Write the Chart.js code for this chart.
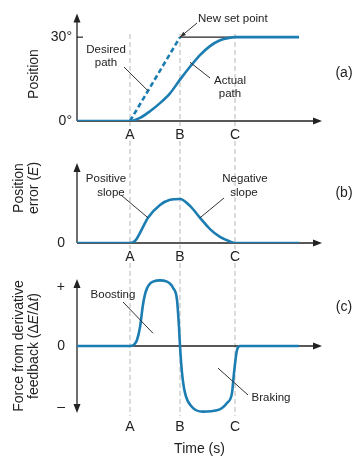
<!DOCTYPE html>
<html>
<head>
<meta charset="utf-8">
<script src="https://cdn.jsdelivr.net/npm/chart.js@4.4.1/dist/chart.umd.min.js"></script>
<style>
  body { margin: 0; background: #fff; }
  #wrap { position: relative; width: 356px; height: 458px; }
  #wrap canvas { position: absolute; left: 0; top: 0; }
</style>
</head>
<body>
<div id="wrap">
  <canvas id="chartA" width="356" height="458"></canvas>
  <canvas id="chartB" width="356" height="458"></canvas>
  <canvas id="chartC" width="356" height="458"></canvas>
</div>
<script>
// ==== Data ====
// time axis in arbitrary units, A / B / C are the three marked instants
const xTickValues = [5.3, 10.3, 15.8];
const xTickLabels = ["A", "B", "C"];

// (a) position in degrees
const actualTime = [0, 5.3, 6.3, 7.3, 8.3, 9.3, 10.3, 11.3, 12.3, 13.3, 14.3, 15.3, 15.8, 22.2];
const actualPos = [0, 0, 1.1, 3.5, 6.4, 9.9, 14.8, 19.4, 23.6, 26.8, 28.9, 29.8, 30, 30];
const desiredTime = [5.3, 10.3];
const desiredPos = [0, 30];
const setPointTime = [10.3, 15.8];
const setPointPos = [30, 30];
const posTicks = [0, 30];
const posTickLabels = ["0°", "30°"];

// (b) position error
const errorTime = [0, 5.3, 5.8, 6.3, 7.1, 8.3, 9.3, 10.3, 11.3, 12.3, 13.3, 14.3, 15.3, 15.8, 22.2];
const errorVal = [0, 0, 0.7, 3.5, 8.7, 13.1, 14.9, 15.2, 12.8, 8.7, 4.8, 2.1, 0.5, 0, 0];
const errorTicks = [0];
const errorTickLabels = ["0"];

// (c) force from derivative feedback
const forceTime = [0, 5.3, 5.7, 6.0, 6.3, 6.6, 6.8, 7.0, 7.3, 7.6, 8.3, 9.0, 9.3, 9.6, 10.0, 10.2, 10.3, 10.5, 10.8, 11.5, 12.6, 14.0, 15.0, 15.5, 15.7, 16.0, 16.3, 22.2];
const forceVal = [0, 0, 0.02, 0.09, 0.28, 0.62, 0.77, 0.86, 0.93, 0.96, 0.98, 0.96, 0.93, 0.87, 0.69, 0.28, 0, -0.40, -0.70, -0.91, -0.98, -0.96, -0.85, -0.70, -0.40, -0.06, 0, 0];
const forceTicks = [-0.92, 0, 0.88];
const forceTickLabels = ["–", "0", "+"];

// ==== Styles ====
const TEAL = "#1b7db1";
const INK = "#222";
const GUIDE = "#c4c4c4";
const FONT = "'Liberation Sans', Arial, sans-serif";

Chart.defaults.font.family = FONT;
Chart.defaults.color = INK;
Chart.defaults.elements.point.radius = 0;

const pts = (xs, ys) => xs.map((x, i) => ({ x: x, y: ys[i] }));

// ==== Drawing helpers ====
function arrowHead(ctx, x, y, dir) {
  ctx.beginPath();
  if (dir === "up") { ctx.moveTo(x, y); ctx.lineTo(x - 3.5, y + 9); ctx.lineTo(x + 3.5, y + 9); }
  if (dir === "down") { ctx.moveTo(x, y); ctx.lineTo(x - 3.5, y - 9); ctx.lineTo(x + 3.5, y - 9); }
  if (dir === "right") { ctx.moveTo(x, y); ctx.lineTo(x - 9, y - 3.5); ctx.lineTo(x - 9, y + 3.5); }
  ctx.closePath();
  ctx.fill();
}

function drawAxes(chart, bothWays) {
  const { ctx, chartArea: a, scales } = chart;
  const y0 = scales.y.getPixelForValue(0);
  ctx.save();
  ctx.strokeStyle = INK;
  ctx.fillStyle = INK;
  ctx.lineWidth = 1.3;
  ctx.beginPath();
  ctx.moveTo(a.left, bothWays ? a.bottom - 6 : y0);
  ctx.lineTo(a.left, a.top + 6);
  ctx.moveTo(a.left, y0);
  ctx.lineTo(a.right - 6, y0);
  ctx.stroke();
  arrowHead(ctx, a.left, a.top, "up");
  arrowHead(ctx, a.right, y0, "right");
  if (bothWays) arrowHead(ctx, a.left, a.bottom, "down");
  ctx.restore();
}

function textLines(ctx, lines, x, y, align) {
  ctx.save();
  ctx.font = "11.5px " + FONT;
  ctx.fillStyle = INK;
  ctx.textAlign = align || "center";
  ctx.textBaseline = "middle";
  lines.forEach((t, i) => ctx.fillText(t, x, y + i * 13));
  ctx.restore();
}

// pointer from a pixel spot to a spot given in data units
function pointer(chart, x1, y1, tx, ty, head) {
  const ctx = chart.ctx;
  const x2 = chart.scales.x.getPixelForValue(tx);
  const y2 = chart.scales.y.getPixelForValue(ty);
  ctx.save();
  ctx.strokeStyle = "#333";
  ctx.fillStyle = "#333";
  ctx.lineWidth = 1;
  ctx.beginPath();
  ctx.moveTo(x1, y1);
  ctx.lineTo(x2, y2);
  ctx.stroke();
  if (head) {
    const ang = Math.atan2(y2 - y1, x2 - x1);
    ctx.translate(x2, y2);
    ctx.rotate(ang);
    ctx.beginPath();
    ctx.moveTo(0, 0);
    ctx.lineTo(-6, -2.2);
    ctx.lineTo(-6, 2.2);
    ctx.closePath();
    ctx.fill();
  }
  ctx.restore();
}

// vertical (rotated) text made of plain / italic parts
function vText(ctx, parts, x, y) {
  ctx.save();
  ctx.translate(x, y);
  ctx.rotate(-Math.PI / 2);
  ctx.fillStyle = INK;
  ctx.textBaseline = "middle";
  ctx.textAlign = "left";
  const fontOf = (it) => (it ? "italic " : "") + "14px " + FONT;
  let total = 0;
  parts.forEach(([t, it]) => { ctx.font = fontOf(it); total += ctx.measureText(t).width; });
  let pos = -total / 2;
  parts.forEach(([t, it]) => {
    ctx.font = fontOf(it);
    ctx.fillText(t, pos, 0);
    pos += ctx.measureText(t).width;
  });
  ctx.restore();
}

function panelTag(ctx, t, x, y) {
  ctx.save();
  ctx.font = "14px " + FONT;
  ctx.fillStyle = INK;
  ctx.textAlign = "center";
  ctx.textBaseline = "middle";
  ctx.fillText(t, x, y);
  ctx.restore();
}

// ==== Shared scale options ====
function xScale(height, extra) {
  return Object.assign({
    type: "linear",
    min: 0,
    max: 24.5,
    grid: { display: false, drawTicks: false },
    border: { display: false },
    afterBuildTicks: (s) => { s.ticks = xTickValues.map((v) => ({ value: v })); },
    afterFit: (s) => { s.height = height; },
    ticks: {
      autoSkip: false,
      maxRotation: 0,
      padding: 6,
      font: { size: 14 },
      callback: (v, i) => xTickLabels[i]
    }
  }, extra || {});
}

function yScale(min, max, tickVals, tickLabels, pad) {
  return {
    type: "linear",
    min: min,
    max: max,
    grid: { display: false, drawTicks: false },
    border: { display: false },
    afterBuildTicks: (s) => { s.ticks = tickVals.map((v) => ({ value: v })); },
    afterFit: (s) => { s.width = 77; },
    ticks: {
      padding: pad,
      font: { size: 14 },
      callback: (v, i) => tickLabels[i]
    }
  };
}

function baseOptions(padding, scales) {
  return {
    responsive: false,
    animation: false,
    devicePixelRatio: 1,
    events: [],
    layout: { padding: padding },
    plugins: { legend: { display: false }, tooltip: { enabled: false } },
    scales: scales
  };
}

// ==== (a) Position ====
new Chart(document.getElementById("chartA"), {
  type: "line",
  data: {
    datasets: [
      { data: pts(actualTime, actualPos), borderColor: TEAL, borderWidth: 2.6, cubicInterpolationMode: "monotone" },
      { data: pts(desiredTime, desiredPos), borderColor: TEAL, borderWidth: 2.6, borderDash: [5, 3] },
      { data: pts(setPointTime, setPointPos), borderColor: INK, borderWidth: 1.2 }
    ]
  },
  options: baseOptions(
    { left: 0, right: 34, top: 12, bottom: 317 },
    { x: xScale(20), y: yScale(0, 38.5, posTicks, posTickLabels, 5) }
  ),
  plugins: [{
    id: "panelA",
    beforeDatasetsDraw(chart) {
      const { ctx, scales } = chart;
      // dashed guides at A, B, C running through all three panels
      const guideSpans = [[34, 126], [141, 249], [263, 416]];
      ctx.save();
      ctx.strokeStyle = GUIDE;
      ctx.lineWidth = 1.2;
      ctx.setLineDash([5, 3]);
      xTickValues.forEach((v) => {
        const gx = scales.x.getPixelForValue(v);
        guideSpans.forEach(([t, b]) => {
          ctx.beginPath();
          ctx.moveTo(gx, t);
          ctx.lineTo(gx, b);
          ctx.stroke();
        });
      });
      ctx.restore();
      drawAxes(chart, false);
      // short tick at 30°
      const y30 = scales.y.getPixelForValue(30);
      ctx.save();
      ctx.strokeStyle = INK;
      ctx.lineWidth = 1.2;
      ctx.beginPath();
      ctx.moveTo(chart.chartArea.left, y30);
      ctx.lineTo(chart.chartArea.left + 6, y30);
      ctx.stroke();
      ctx.restore();
    },
    afterDatasetsDraw(chart) {
      const ctx = chart.ctx;
      textLines(ctx, ["New set point"], 198, 19, "left");
      pointer(chart, 197, 23, 10.3, 30, true);
      textLines(ctx, ["Desired", "path"], 106, 50);
      pointer(chart, 124, 67, 7.1, 10.8, false);
      textLines(ctx, ["Actual", "path"], 230, 81);
      pointer(chart, 210, 78, 11.3, 21, false);
      vText(ctx, [["Position", false]], 34, 74);
      panelTag(ctx, "(a)", 344, 73);
    }
  }]
});

// ==== (b) Position error ====
new Chart(document.getElementById("chartB"), {
  type: "line",
  data: {
    datasets: [
      { data: pts(errorTime, errorVal), borderColor: TEAL, borderWidth: 2.6, cubicInterpolationMode: "monotone" }
    ]
  },
  options: baseOptions(
    { left: 0, right: 34, top: 163, bottom: 195 },
    { x: xScale(20), y: yScale(0, 27.6, errorTicks, errorTickLabels, 12) }
  ),
  plugins: [{
    id: "panelB",
    beforeDatasetsDraw(chart) { drawAxes(chart, false); },
    afterDatasetsDraw(chart) {
      const ctx = chart.ctx;
      textLines(ctx, ["Positive"], 106, 179);
      textLines(ctx, ["slope"], 111, 193);
      pointer(chart, 121, 195, 7.1, 8.7, false);
      textLines(ctx, ["Negative"], 245, 179);
      textLines(ctx, ["slope"], 244, 193);
      pointer(chart, 224, 198, 12.3, 8.7, false);
      vText(ctx, [["Position", false]], 19, 188);
      vText(ctx, [["error (", false], ["E", true], [")", false]], 34, 188);
      panelTag(ctx, "(b)", 344, 193);
    }
  }]
});

// ==== (c) Force from derivative feedback ====
new Chart(document.getElementById("chartC"), {
  type: "line",
  data: {
    datasets: [
      { data: pts(forceTime, forceVal), borderColor: TEAL, borderWidth: 2.6, cubicInterpolationMode: "monotone" }
    ]
  },
  options: baseOptions(
    { left: 0, right: 34, top: 279, bottom: 0 },
    {
      x: xScale(45, { title: { display: true, text: "Time (s)", font: { size: 14 }, padding: { top: 0, bottom: 0 } } }),
      y: yScale(-1, 1, forceTicks, forceTickLabels, 12)
    }
  ),
  plugins: [{
    id: "panelC",
    beforeDatasetsDraw(chart) { drawAxes(chart, true); },
    afterDatasetsDraw(chart) {
      const ctx = chart.ctx;
      textLines(ctx, ["Boosting"], 113, 295);
      pointer(chart, 123, 302, 7.6, 0.19, false);
      textLines(ctx, ["Braking"], 271, 398);
      pointer(chart, 248, 395, 14.1, -0.33, false);
      vText(ctx, [["Force from derivative", false]], 19, 346);
      vText(ctx, [["feedback (Δ", false], ["E", true], ["/Δ", false], ["t", true], [")", false]], 34, 346);
      panelTag(ctx, "(c)", 344, 307);
    }
  }]
});
</script>
</body>
</html>
